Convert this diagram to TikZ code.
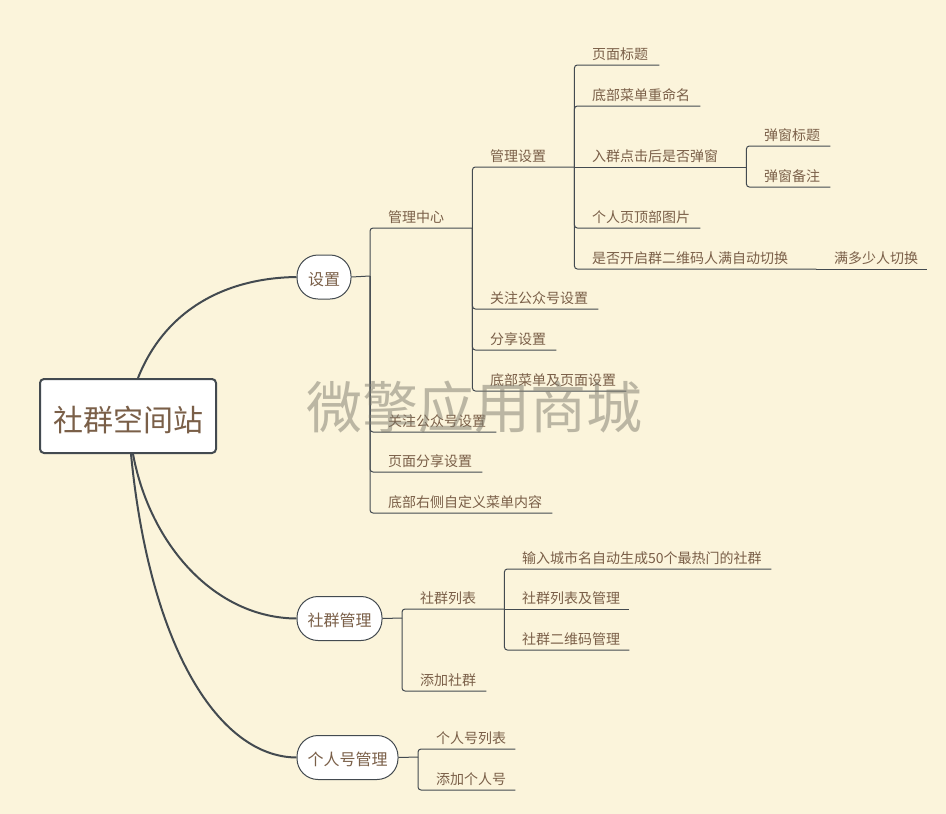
\documentclass[tikz,border=0pt]{standalone}
\usepackage{fontspec}
\setmainfont{Noto Sans CJK SC}
\definecolor{paper}{HTML}{FBF4DB}
\definecolor{ink}{HTML}{434A50}
\definecolor{words}{HTML}{7A5F48}
\begin{document}
\begin{tikzpicture}
		[	x=1pt,y=-1pt,
		link/.style={draw=ink,line width=1pt,rounded corners=3pt},
		limb/.style={draw=ink,line width=2pt},
		topic/.style={anchor=south west,inner sep=0pt,text width=#1,align=left,text height=13pt,text depth=5pt,text=words,font=\fontsize{14}{14}\selectfont,execute at begin node={\hspace*{18pt}}},
		pill/.style={draw=ink,line width=1pt,fill=white,rounded corners=21pt,inner sep=0pt,minimum height=44pt,text height=18pt,text depth=1.5pt,text=words,font=\fontsize{16}{16}\selectfont},
		hub/.style={draw=ink,line width=2pt,fill=white,rounded corners=4pt,inner sep=0pt,minimum width=176pt,minimum height=74pt,text height=33pt,text depth=3pt,text=words,font=\fontsize{30}{30}\selectfont},
		stamp/.style={inner sep=0pt,text=black!50!paper,text opacity=0.5,font=\fontsize{56}{56}\selectfont}
		]
		\path[fill=paper,use as bounding box] (0,0) rectangle (946,814);

		% centre and the three main branches
		\node[hub] (root) at (128,416){社群空间站};
		\node[pill,minimum width=54pt] (setting) at (324,277){设置};
		\node[pill,minimum width=85pt] (group) at (339.5,618.5){社群管理};
		\node[pill,minimum width=101pt] (person) at (347.5,757.5){个人号管理};
		\draw[limb] ([xshift=10pt]root.north) .. controls (165,310) and (225,278) .. (setting.west);
		\draw[limb] ([xshift=5pt]root.south) .. controls (150,545) and (215,618) .. (group.west);
		\draw[limb] ([xshift=3pt]root.south) .. controls (150,650) and (220,757) .. (person.west);

		% settings
		\coordinate (settinghub) at (370,276);
		\node[topic=102pt] (center) at (370,228){管理中心};
		\node[topic=126pt] (follow) at (370,432){关注公众号设置};
		\node[topic=112pt] (share) at (370,472){页面分享设置};
		\node[topic=182pt] (custom) at (370,513){底部右侧自定义菜单内容};
		\draw[link] (setting.east) -- (settinghub);
		\draw[link] (settinghub) |- (center.south east);
		\draw[link] (settinghub) |- (follow.south east);
		\draw[link] (settinghub) |- (share.south east);
		\draw[link] (settinghub) |- (custom.south east);

		\node[topic=102pt] (manage) at (472,167){管理设置};
		\node[topic=126pt] (official) at (472,309){关注公众号设置};
		\node[topic=84pt] (sharing) at (472,350){分享设置};
		\node[topic=154pt] (menupage) at (472,391){底部菜单及页面设置};
		\draw[link] (center.south east) |- (manage.south east);
		\draw[link] (center.south east) |- (official.south east);
		\draw[link] (center.south east) |- (sharing.south east);
		\draw[link] (center.south east) |- (menupage.south east);

		\node[topic=85pt] (title) at (574,65){页面标题};
		\node[topic=126pt] (rename) at (574,106){底部菜单重命名};
		\node[topic=172pt] (popup) at (574,167){入群点击后是否弹窗};
		\node[topic=126pt] (topimage) at (574,228){个人页顶部图片};
		\node[topic=242pt] (autoswitch) at (574,269){是否开启群二维码人满自动切换};
		\node[topic=111pt] (switchcount) at (816,269){满多少人切换};
		\draw[link] (manage.south east) |- (title.south east);
		\draw[link] (manage.south east) |- (rename.south east);
		\draw[link] (manage.south east) -- (popup.south east);
		\draw[link] (manage.south east) |- (topimage.south east);
		\draw[link] (manage.south east) |- (autoswitch.south east);
		\draw[link] (autoswitch.south east) -- (switchcount.south east);

		\node[topic=84pt] (popuptitle) at (746,146){弹窗标题};
		\node[topic=84pt] (popupnote) at (746,187){弹窗备注};
		\draw[link] (popup.south east) |- (popuptitle.south east);
		\draw[link] (popup.south east) |- (popupnote.south east);

		% groups
		\coordinate (grouphub) at (402,618);
		\node[topic=102pt] (grouplist) at (402,609){社群列表};
		\node[topic=84pt] (groupadd) at (402,691){添加社群};
		\draw[link] (group.east) -- (grouphub);
		\draw[link] (grouphub) |- (grouplist.south east);
		\draw[link] (grouphub) |- (groupadd.south east);

		\node[topic=267pt] (citygroups) at (504,569){输入城市名自动生成50个最热门的社群};
		\node[topic=125pt] (listmanage) at (504,609){社群列表及管理};
		\node[topic=125pt] (qrmanage) at (504,650){社群二维码管理};
		\draw[link] (grouplist.south east) |- (citygroups.south east);
		\draw[link] (grouplist.south east) -- (listmanage.south east);
		\draw[link] (grouplist.south east) |- (qrmanage.south east);

		% personal accounts
		\coordinate (personhub) at (418,757);
		\node[topic=97pt] (personlist) at (418,749){个人号列表};
		\node[topic=97pt] (personadd) at (418,790){添加个人号};
		\draw[link] (person.east) -- (personhub);
		\draw[link] (personhub) |- (personlist.south east);
		\draw[link] (personhub) |- (personadd.south east);

		\node[stamp] (mark) at (474,407){微擎应用商城};
	\end{tikzpicture}
\end{document}
